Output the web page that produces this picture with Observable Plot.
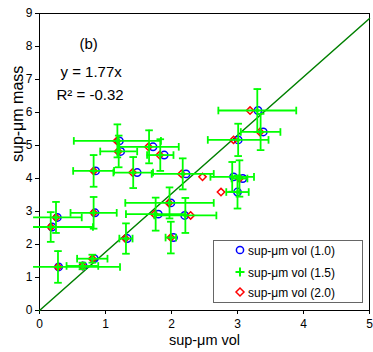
<!DOCTYPE html>
<html><head><meta charset="utf-8">
<script src="https://cdn.jsdelivr.net/npm/d3@7"></script>
<script src="https://cdn.jsdelivr.net/npm/@observablehq/plot@0.6"></script>
<style>
html,body{margin:0;padding:0;background:#fff;}
#wrap{position:relative;width:373px;height:352px;font-family:"Liberation Sans",Arial,sans-serif;}
#legend{position:absolute;left:213px;top:240px;width:150px;height:63px;border:1.5px solid #666;background:#fff;box-sizing:border-box;font-size:12px;color:#000;}
.row{position:absolute;left:0;height:14px;line-height:14px;white-space:nowrap;}
.row svg{position:absolute;left:19px;top:-1px;}
.row span{position:absolute;left:34px;top:0;}
</style></head><body><div id="wrap"></div>
<script>
// sup-μm mass (y) for each sample
const mass  = [1.32, 1.35, 1.57, 2.18, 2.53, 2.82, 2.96, 2.92, 3.26, 2.21, 2.88, 4.23, 4.18, 4.82, 5.14, 4.96, 4.71, 4.14, 4.05, 4.00, 3.59, 5.17, 5.41, 6.06];
// sup-μm vol for the three assumed densities
const vol10 = [0.29, 0.66, 0.83, 1.33, 0.19, 0.27, 0.84, 1.80, 1.99, 2.03, 2.20, 0.85, 1.48, 1.23, 1.21, 1.72, 1.89, 2.22, 2.94, 3.08, 3.00, 3.01, 3.39, 3.31];
const vol15 = [0.28, 0.65, 0.80, 1.31, 0.17, 0.25, 0.82, 1.76, 1.97, 1.99, 2.21, 0.82, 1.42, 1.20, 1.18, 1.66, 1.83, 2.17, 2.92, 3.03, 3.00, 3.01, 3.35, 3.30];
const vol20 = [0.28, 0.65, 0.80, 1.30, 0.17, 0.25, 0.82, 1.74, 1.96, 1.99, 2.29, 0.82, 1.41, 1.19, 1.17, 1.65, 1.82, 2.15, 2.47, 3.03, 2.75, 2.94, 3.34, 3.19];
// error bars (shown for the 1.5 series)
const xErr  = [0.94, 0.24, 0.23, 0.10, 0.64, 0.39, 0.35, 0.45, 0.67, 0.08, 0.47, 0.31, 0.30, 0.28, 0.66, 0.45, 0.20, 0.47, 0.33, 0.12, 0.17, 0.46, 0.30, 0.59];
const yErr  = [0.48, 0.10, 0.12, 0.46, 0.45, 0.47, 0.48, 0.50, 0.47, 0.48, 0.53, 0.48, 0.47, 0.48, 0.50, 0.50, 0.48, 0.47, 0.45, 0.55, 0.50, 0.49, 0.55, 0.65];
const fitSlope = 1.77;
const r2 = -0.32;
const xTicks = [0, 1, 2, 3, 4, 5];
const yTicks = [0, 1, 2, 3, 4, 5, 6, 7, 8, 9];
const xDomain = [0, 5];
const yDomain = [0, 9];
const seriesLabels = ["sup-μm vol (1.0)", "sup-μm vol (1.5)", "sup-μm vol (2.0)"];
const seriesColors = ["#0000ff", "#00ff00", "#ff0000"];

const xMin = -0.09; // plot-area clipping of long error bars
const rows = mass.map((m, i) => ({
  mass: m, v10: vol10[i], v15: vol15[i], v20: vol20[i],
  xl: Math.max(vol15[i] - xErr[i], xMin), xr: vol15[i] + xErr[i],
  yl: m - yErr[i], yh: m + yErr[i]
}));
const fitLine = xDomain.map(x => ({x, y: fitSlope * x}));

const hCap = {draw(ctx, size) {const r = Math.sqrt(size / Math.PI); ctx.moveTo(-r, 0); ctx.lineTo(r, 0);}};
const vCap = {draw(ctx, size) {const r = Math.sqrt(size / Math.PI); ctx.moveTo(0, -r); ctx.lineTo(0, r);}};
const plusSym = {draw(ctx, size) {const r = Math.sqrt(size / Math.PI); ctx.moveTo(-r, 0); ctx.lineTo(r, 0); ctx.moveTo(0, -r); ctx.lineTo(0, r);}};

const green = seriesColors[1];
const ebW = 1.8;

const plot = Plot.plot({
  width: 373, height: 352,
  marginLeft: 39, marginRight: 4, marginTop: 13, marginBottom: 42,
  style: {fontFamily: "'Liberation Sans', Arial, sans-serif", fontSize: "12px", color: "#000", background: "#fff"},
  x: {domain: xDomain},
  y: {domain: yDomain},
  marks: [
    Plot.axisX({ticks: xTicks, tickFormat: "d", tickSize: 4, tickPadding: 5, label: null, fontSize: 12}),
    Plot.axisY({ticks: yTicks, tickFormat: "d", tickSize: 4, tickPadding: 3, label: null, fontSize: 12}),
    Plot.frame({stroke: "#000", strokeWidth: 1}),
    Plot.line(fitLine, {x: "x", y: "y", stroke: "#008000", strokeWidth: 1.5}),
    Plot.dot(rows, {x: "v10", y: "mass", symbol: "circle", r: 3.7, stroke: seriesColors[0], strokeWidth: 1.5, fill: "none"}),
    Plot.dot(rows, {x: "v20", y: "mass", symbol: "diamond2", r: 3.3, stroke: seriesColors[2], strokeWidth: 1.5, fill: "none"}),
    Plot.ruleY(rows, {y: "mass", x1: "xl", x2: "xr", stroke: green, strokeWidth: ebW}),
    Plot.ruleX(rows, {x: "v15", y1: "yl", y2: "yh", stroke: green, strokeWidth: ebW}),
    Plot.dot(rows.filter(d => d.xl > xMin), {x: "xl", y: "mass", symbol: vCap, r: 3.8, stroke: green, strokeWidth: ebW, fill: "none"}),
    Plot.dot(rows, {x: "xr", y: "mass", symbol: vCap, r: 3.8, stroke: green, strokeWidth: ebW, fill: "none"}),
    Plot.dot(rows, {x: "v15", y: "yl", symbol: hCap, r: 3.8, stroke: green, strokeWidth: ebW, fill: "none"}),
    Plot.dot(rows, {x: "v15", y: "yh", symbol: hCap, r: 3.8, stroke: green, strokeWidth: ebW, fill: "none"}),
    Plot.dot(rows, {x: "v15", y: "mass", symbol: plusSym, r: 2.0, stroke: green, strokeWidth: 2.2, fill: "none"}),
    Plot.text(["(b)"], {frameAnchor: "top-left", dx: 40, dy: 25, textAnchor: "start", fontSize: 15}),
    Plot.text([`y = ${fitSlope}x`], {frameAnchor: "top-left", dx: 21, dy: 53, textAnchor: "start", fontSize: 15}),
    Plot.text([`R² = ${r2}`], {frameAnchor: "top-left", dx: 17, dy: 76, textAnchor: "start", fontSize: 15}),
    Plot.text(["sup-μm vol"], {frameAnchor: "bottom", dy: 34.5, fontSize: 14.5}),
    Plot.text(["sup-μm mass"], {frameAnchor: "left", dx: -22, rotate: -90, fontSize: 16})
  ]
});
const wrap = document.getElementById("wrap");
wrap.appendChild(plot);

// legend
const legend = document.createElement("div");
legend.id = "legend";
const rowTops = [3, 24.5, 45];
const symDraw = [
  '<circle cx="7" cy="7" r="3.6" fill="none" stroke="#0000ff" stroke-width="1.5"/>',
  '<path d="M2.5,7H11.5M7,2.5V11.5" stroke="#00ff00" stroke-width="2"/>',
  '<path d="M7,3L11,7L7,11L3,7Z" fill="none" stroke="#ff0000" stroke-width="1.5"/>'
];
seriesLabels.forEach((lab, i) => {
  const r = document.createElement("div");
  r.className = "row";
  r.style.top = rowTops[i] + "px";
  r.innerHTML = `<svg width="14" height="14">${symDraw[i]}</svg><span>${lab}</span>`;
  legend.appendChild(r);
});
wrap.appendChild(legend);
</script>
</body></html>
